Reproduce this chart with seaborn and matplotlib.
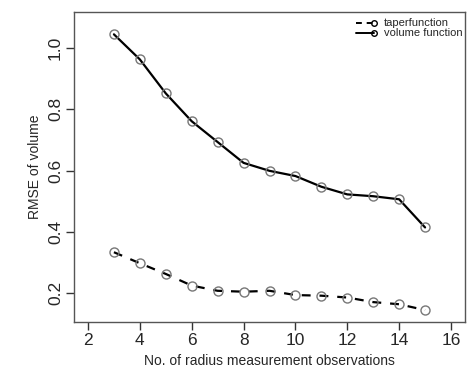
import matplotlib
matplotlib.use("Agg")
import matplotlib.pyplot as plt
from matplotlib.lines import Line2D
from matplotlib.legend_handler import HandlerLine2D
import seaborn as sns
import pandas as pd

n_obs = [3, 4, 5, 6, 7, 8, 9, 10, 11, 12, 13, 14, 15]
taper_rmse = [0.333, 0.297, 0.262, 0.224, 0.207, 0.204, 0.207, 0.193, 0.191, 0.185, 0.170, 0.163, 0.144]
volume_rmse = [1.045, 0.963, 0.852, 0.761, 0.693, 0.625, 0.599, 0.582, 0.547, 0.522, 0.516, 0.506, 0.414]
series_names = ["taperfunction", "volume function"]
x_ticks = [2, 4, 6, 8, 10, 12, 14, 16]
y_ticks = [0.2, 0.4, 0.6, 0.8, 1.0]

sns.set_style("ticks")
plt.rcParams["font.family"] = ["Liberation Sans", "DejaVu Sans"]

fig = plt.figure(figsize=(4.72, 3.72), dpi=100)
ax = fig.add_axes([74 / 472, 1 - 322 / 372, (465 - 74) / 472, (322 - 12) / 372])

df_t = pd.DataFrame({"x": n_obs, "y": taper_rmse})
df_v = pd.DataFrame({"x": n_obs, "y": volume_rmse})

mk = dict(marker="o", markersize=6.5, markerfacecolor="none",
          markeredgecolor="#777777", markeredgewidth=1.0)
sns.lineplot(data=df_t, x="x", y="y", ax=ax, color="black", linewidth=1.6,
             linestyle=(0, (4, 4)), legend=False, **mk)
sns.lineplot(data=df_v, x="x", y="y", ax=ax, color="black", linewidth=1.6,
             legend=False, **mk)

ax.set_xlim(1.46, 16.54)
ax.set_ylim(0.105, 1.118)
ax.set_xticks(x_ticks)
ax.set_yticks(y_ticks)
ax.set_xticklabels([str(v) for v in x_ticks], fontsize=12.5)
ax.set_yticklabels([f"{v:.1f}" for v in y_ticks], fontsize=12.5, rotation=90, va="center")
ax.tick_params(direction="out", length=6, width=1, color="#333333", pad=2)
for s in ax.spines.values():
    s.set_visible(True)
    s.set_color("#555555")
    s.set_linewidth(1.0)

ax.set_xlabel("No. of radius measurement observations", fontsize=10)
ax.set_ylabel("RMSE of volume", fontsize=10)


class EndMarker(HandlerLine2D):
    def create_artists(self, *args, **kwargs):
        arts = super().create_artists(*args, **kwargs)
        for a in arts:
            n = len(a.get_xdata())
            a.set_markevery([n - 1])
        return arts


handles = [
    Line2D([0], [0], color="black", linewidth=1.4, linestyle=(0, (3, 2.5)),
           marker="o", markersize=4, markerfacecolor="none",
           markeredgecolor="black", markeredgewidth=1.0),
    Line2D([0], [0], color="black", linewidth=1.4,
           marker="o", markersize=4, markerfacecolor="none",
           markeredgecolor="black", markeredgewidth=1.0),
]
leg = ax.legend(handles, series_names, loc="center left",
                bbox_to_anchor=(353 / 472, 1 - 28.5 / 372), bbox_transform=fig.transFigure,
                fontsize=8, frameon=False, borderpad=0, borderaxespad=0,
                handlelength=2.2, handletextpad=0.6, labelspacing=0.0, numpoints=2,
                handler_map={Line2D: EndMarker(numpoints=2)})

fig.savefig("out.png", dpi=100)
